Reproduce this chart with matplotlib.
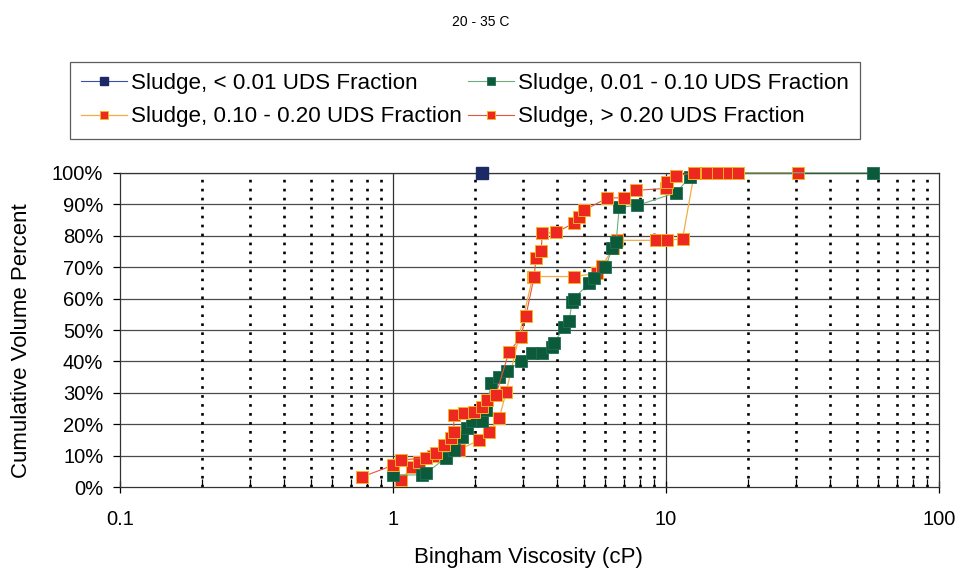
import numpy as np
import matplotlib
matplotlib.use('Agg')
from matplotlib import pyplot as plt
from matplotlib.ticker import FixedLocator, NullFormatter, FixedFormatter

plt.rcParams['font.family'] = ['Liberation Sans', 'DejaVu Sans']

# Sludge, < 0.01 UDS Fraction
blue_x = [2.12]
blue_y = [100]

# Sludge, 0.01 - 0.10 UDS Fraction
green_x = [1.0, 1.28, 1.32, 1.56, 1.67, 1.79, 1.87, 1.95, 2.12, 2.19, 2.29, 2.45, 2.62, 2.94,
           3.23, 3.52, 3.83, 3.9, 4.24, 4.42, 4.53, 4.6, 5.24, 5.46, 6.0, 6.36, 6.57, 6.74,
           7.86, 10.9, 12.2, 14.0, 57.3]
green_y = [3.8, 4.0, 4.5, 9.3, 11.8, 16.0, 19.0, 21.0, 21.0, 24.5, 33.0, 35.0, 37.0, 40.0,
           42.6, 42.6, 44.6, 46.0, 51.0, 53.0, 59.0, 60.0, 65.0, 66.5, 70.0, 76.0, 78.0, 89.0,
           89.6, 93.7, 98.5, 100, 100]

# Sludge, 0.10 - 0.20 UDS Fraction
orange_x = [1.07, 1.17, 1.25, 1.4, 1.75, 2.07, 2.25, 2.45, 2.6, 3.25, 4.6, 5.6, 5.84, 6.4,
            6.63, 9.2, 10.1, 11.5, 12.7, 13.5, 16.5, 30.4]
orange_y = [2.3, 6.5, 8.0, 10.0, 12.0, 15.0, 17.6, 22.0, 30.4, 67.0, 67.0, 68.0, 70.5, 76.0,
            78.5, 78.5, 78.5, 79.0, 100, 100, 100, 100]

# Sludge, > 0.20 UDS Fraction
red_x = [0.77, 1.0, 1.07, 1.32, 1.44, 1.54, 1.63, 1.67, 1.67, 1.82, 1.98, 2.12, 2.21, 2.38,
         2.66, 2.94, 3.07, 3.29, 3.34, 3.49, 3.52, 3.96, 4.6, 4.8, 5.0, 6.1, 7.0, 7.77,
         10.0, 10.1, 10.9, 12.7, 14.1, 15.5, 17.0, 18.3]
red_y = [3.3, 7.0, 8.7, 9.3, 11.0, 13.4, 15.6, 17.6, 23.0, 23.5, 24.0, 25.5, 27.6, 29.3,
         43.0, 47.7, 54.6, 67.0, 73.0, 75.0, 80.7, 81.0, 84.0, 86.0, 88.0, 92.0, 92.0, 94.4,
         95.0, 97.0, 99.0, 100, 100, 100, 100, 100]

labels = ['Sludge, < 0.01 UDS Fraction', 'Sludge, 0.01 - 0.10 UDS Fraction',
          'Sludge, 0.10 - 0.20 UDS Fraction', 'Sludge, > 0.20 UDS Fraction']
x_major = [0.1, 1, 10, 100]
x_major_lab = ['0.1', '1', '10', '100']
y_ticks = list(range(0, 101, 10))

fig = plt.figure(figsize=(9.62, 5.75), dpi=100)
ax = fig.add_axes([120/962, 1-487.3/575, 819/962, 314.6/575])

# grid
for v in y_ticks[1:]:
    ax.axhline(v, color='#4a4a4a', lw=0.9, zorder=1)
minor = [m*10.0**e for e in (-1, 0, 1) for m in range(2, 10)]
for v in minor:
    ax.axvline(v, color='black', lw=1.9, ls=(0, (1, 2.4)), zorder=1)
for v in (1, 10):
    ax.axvline(v, color='#333333', lw=0.9, zorder=1)

ms = 8.5
l1, = ax.plot(blue_x, blue_y, '-s', color='#3a4fa8', lw=0.8, ms=ms, mfc='#1b2a66',
              mec='#1b2a66', clip_on=False, zorder=5)
l2, = ax.plot(green_x, green_y, '-s', color='#6fae7c', lw=0.8, ms=ms, mfc='#0b5a3a',
              mec='#1f6e56', mew=0.6, clip_on=False, zorder=4)
l3, = ax.plot(orange_x, orange_y, '-s', color='#f2ad45', lw=0.9, ms=ms, mfc='#ec2820',
              mec='#f6b31e', mew=0.7, clip_on=False, zorder=3)
l4, = ax.plot(red_x, red_y, '-s', color='#e8533c', lw=0.8, ms=ms, mfc='#ec2820',
              mec='#f6b31e', mew=0.7, clip_on=False, zorder=4)

ax.set_xscale('log')
ax.set_xlim(0.1, 100)
ax.set_ylim(0, 100)
ax.xaxis.set_major_locator(FixedLocator(x_major))
ax.xaxis.set_major_formatter(FixedFormatter(x_major_lab))
ax.xaxis.set_minor_locator(FixedLocator(minor))
ax.xaxis.set_minor_formatter(NullFormatter())
ax.set_yticks(y_ticks)
ax.set_yticklabels(['%d%%' % v for v in y_ticks])
ax.tick_params(axis='x', which='major', direction='inout', length=9, width=0.9, pad=12,
               labelsize=14.5)
ax.tick_params(axis='x', which='minor', direction='in', length=6, width=0.9)
ax.tick_params(axis='y', direction='out', length=5, width=0.9, pad=7, labelsize=14.5)
for s in ax.spines.values():
    s.set_color('#333333')
    s.set_linewidth(0.9)

fig.text(22/962, 1-341/575, 'Cumulative Volume Percent', rotation=90, ha='center',
         va='center', fontsize=16)
fig.text(528/962, 1-557/575, 'Bingham Viscosity (cP)', ha='center', va='center', fontsize=16)
fig.text(481/962, 1-22/575, '20 - 35 C', ha='center', va='center', fontsize=10)

leg = fig.legend([l1, l3, l2, l4], [labels[0], labels[2], labels[1], labels[3]], ncol=2,
                 loc='upper left', bbox_to_anchor=(70/962, 1-62/575), frameon=True,
                 fancybox=False, fontsize=16.1, handlelength=2.05, handletextpad=0.2,
                 columnspacing=0.25, borderpad=0.5, labelspacing=0.55, markerscale=0.65,
                 borderaxespad=0)
leg.get_frame().set_edgecolor('#333333')
leg.get_frame().set_linewidth(0.9)

plt.savefig('out.png', dpi=100)
